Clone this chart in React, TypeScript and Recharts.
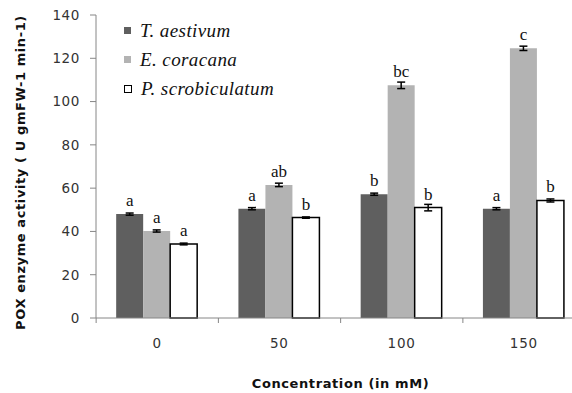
import { BarChart, Bar, XAxis, YAxis, ErrorBar, LabelList, Legend } from "recharts";

const concentrations = ["0", "50", "100", "150"];
const aestivum = [48, 50.5, 57.2, 50.5];
const coracana = [40.2, 61.5, 107.5, 124.6];
const scrobiculatum = [34.2, 46.4, 51.0, 54.3];
const aestivumErr = [0.5, 0.5, 0.5, 0.5];
const coracanaErr = [0.5, 0.8, 1.5, 1.0];
const scrobiculatumErr = [0.4, 0.3, 1.5, 0.7];
const aestivumLetters = ["a", "a", "b", "a"];
const coracanaLetters = ["a", "ab", "bc", "c"];
const scrobiculatumLetters = ["a", "b", "b", "b"];
const yTicks = [0, 20, 40, 60, 80, 100, 120, 140];

const data = concentrations.map((c, i) => ({
  conc: c,
  ta: aestivum[i],
  taErr: aestivumErr[i],
  taLbl: aestivumLetters[i],
  ec: coracana[i],
  ecErr: coracanaErr[i],
  ecLbl: coracanaLetters[i],
  ps: scrobiculatum[i],
  psErr: scrobiculatumErr[i],
  psLbl: scrobiculatumLetters[i],
}));

const legendItems = [
  { name: "T. aestivum", fill: "#5f5f5f", stroke: "none" },
  { name: "E. coracana", fill: "#b3b3b3", stroke: "none" },
  { name: "P. scrobiculatum", fill: "#ffffff", stroke: "#000" },
];

const HALF_BAND = 61; // half of one category width, for boundary ticks

function ConcTick(props: any) {
  const { x, y, payload } = props;
  return (
    <g>
      <line x1={x - HALF_BAND} x2={x - HALF_BAND} y1={y} y2={y + 5} stroke="#868686" />
      <text
        x={x}
        y={y + 30}
        textAnchor="middle"
        fill="#333"
        fontSize={13.5}
        letterSpacing={0.8}
        fontFamily="DejaVu Sans"
      >
        {payload.value}
      </text>
    </g>
  );
}

function LegendBox() {
  return (
    <div style={{ fontFamily: "Liberation Serif", fontStyle: "italic", fontSize: 19, color: "#111" }}>
      {legendItems.map((it) => (
        <div key={it.name} style={{ height: 29, display: "flex", alignItems: "center", whiteSpace: "nowrap" }}>
          <span
            style={{
              display: "inline-block",
              width: it.stroke === "none" ? 7 : 6,
              height: it.stroke === "none" ? 7 : 6,
              background: it.fill,
              border: it.stroke === "none" ? "none" : "1px solid #000",
              marginRight: 9,
            }}
          />
          <span style={{ letterSpacing: 0.4 }}>{it.name}</span>
        </div>
      ))}
    </div>
  );
}

const letterStyle = { fontFamily: "Liberation Serif", fontSize: 17, fill: "#111" };

export default function App() {
  return (
    <div style={{ position: "fixed", left: 0, top: 0, width: 572, height: 393, overflow: "hidden", background: "#fff" }}>
      <BarChart
        width={600}
        height={393}
        data={data}
        margin={{ top: 15, right: 15, left: 0, bottom: 0 }}
        barCategoryGap="16.5%"
        barGap={0}
      >
        <XAxis
          dataKey="conc"
          height={75}
          stroke="#868686"
          tickLine={false}
          tickSize={0}
          tickMargin={0}
          tick={<ConcTick />}
          interval={0}
          label={{
            value: "Concentration (in mM)",
            position: "insideBottom",
            offset: 5,
            fill: "#111",
            fontSize: 13,
            fontWeight: "bold",
            fontFamily: "DejaVu Sans",
            letterSpacing: 0.6,
          }}
        />
        <YAxis
          width={96}
          domain={[0, 140]}
          ticks={yTicks}
          stroke="#868686"
          tickSize={6}
          tickMargin={10}
          tick={{ fill: "#333", fontSize: 13.5, fontFamily: "DejaVu Sans", letterSpacing: 0.6 }}
          label={{
            content: (p: any) => {
              const vb = p.viewBox;
              const cx = 20;
              const cy = vb.y + vb.height / 2 + 6;
              return (
                <text
                  x={cx}
                  y={cy}
                  transform={`rotate(-90 ${cx} ${cy})`}
                  textAnchor="middle"
                  dominantBaseline="central"
                  fontSize={13}
                  fontWeight="bold"
                  letterSpacing={0.6}
                  fontFamily="DejaVu Sans"
                  fill="#111"
                >
                  POX enzyme activity ( U gmFW-1  min-1)
                </text>
              );
            },
          }}
        />
        <Legend
          layout="vertical"
          align="center"
          verticalAlign="middle"
          wrapperStyle={{ left: 124, top: 16, width: 220, height: 90 }}
          content={<LegendBox />}
        />
        <Bar dataKey="ta" fill="#5f5f5f" isAnimationActive={false}>
          <ErrorBar dataKey="taErr" width={4} stroke="#000" strokeWidth={1.5} />
          <LabelList dataKey="taLbl" position="top" offset={8} style={letterStyle} />
        </Bar>
        <Bar dataKey="ec" fill="#b3b3b3" isAnimationActive={false}>
          <ErrorBar dataKey="ecErr" width={4} stroke="#000" strokeWidth={1.5} />
          <LabelList dataKey="ecLbl" position="top" offset={8} style={letterStyle} />
        </Bar>
        <Bar dataKey="ps" fill="#ffffff" stroke="#000" strokeWidth={1.5} isAnimationActive={false}>
          <ErrorBar dataKey="psErr" width={4} stroke="#000" strokeWidth={1.5} />
          <LabelList dataKey="psLbl" position="top" offset={8} style={letterStyle} />
        </Bar>
      </BarChart>
    </div>
  );
}
